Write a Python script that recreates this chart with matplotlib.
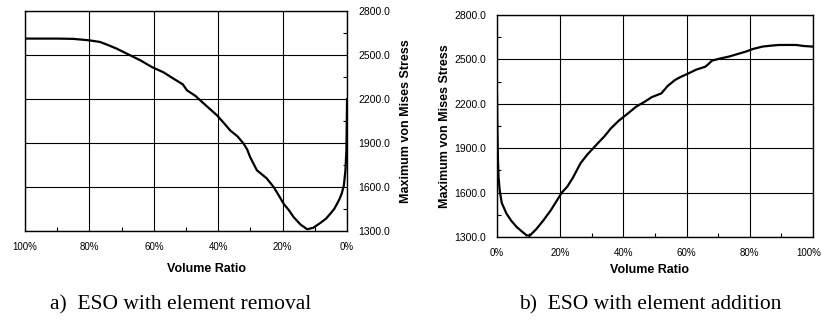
import matplotlib
matplotlib.use("Agg")
import matplotlib.pyplot as plt
import matplotlib.transforms as mtransforms
from matplotlib.ticker import FixedLocator, FuncFormatter

# ESO with element removal (volume ratio %, max von Mises stress)
removal_ratio = [100, 95, 90, 85, 80, 76.7, 74, 71.5, 68, 64.2, 60.6, 57, 53.9, 51,
                 49.7, 47, 45.6, 43, 40.4, 38, 36.3, 34, 32.1, 31, 30.1, 28.0, 25,
                 22.8, 21, 19.7, 18, 16.6, 14.5, 12.4, 10.5, 8.3, 6.5, 5.2, 4.0, 3.1,
                 2.3, 1.6, 1.0, 0.5, 0.2, 0.0]
removal_stress = [2612, 2612, 2612, 2610, 2600, 2589, 2566, 2543, 2505, 2464, 2418,
                  2382, 2339, 2300, 2259, 2220, 2191, 2140, 2089, 2030, 1986, 1945,
                  1895, 1855, 1804, 1714, 1660, 1600, 1535, 1486, 1440, 1395, 1345,
                  1312, 1322, 1355, 1385, 1418, 1450, 1486, 1520, 1560, 1610, 1714,
                  1850, 2200]

# ESO with element addition
addition_ratio = [0.0, 0.1, 0.3, 0.5, 0.85, 1.5, 3.0, 4.5, 6.2, 8.0, 9.4, 10.4, 12.5,
                  14.7, 17, 19, 20.5, 22.2, 24, 26.4, 28.5, 31.8, 34, 36, 38.5, 41.4,
                  44, 46.7, 49, 52, 54, 56.3, 58, 60.6, 63, 65.9, 67, 68, 70.5, 73.3,
                  76, 78.7, 81, 84, 86.5, 89.3, 92, 94.7, 97, 100]
addition_stress = [2270, 2050, 1819, 1700, 1616, 1530, 1458, 1410, 1368, 1335, 1311,
                   1310, 1355, 1413, 1480, 1548, 1600, 1639, 1700, 1797, 1855, 1931,
                   1980, 2033, 2085, 2134, 2180, 2213, 2245, 2270, 2320, 2360, 2380,
                   2405, 2430, 2450, 2470, 2491, 2505, 2518, 2535, 2552, 2570, 2586,
                   2592, 2597, 2597, 2597, 2590, 2586]

x_ticks = [0, 20, 40, 60, 80, 100]
y_ticks = [1300, 1600, 1900, 2200, 2500, 2800]

plt.rcParams["font.family"] = ["Liberation Sans", "DejaVu Sans"]

fig = plt.figure(figsize=(8.23, 3.24), dpi=100)
ax_a = fig.add_axes([0.0304, 0.287, 0.3913, 0.679])
ax_b = fig.add_axes([0.6039, 0.2685, 0.384, 0.6855])


def style_axes(ax):
    ax.set_ylim(1300, 2800)
    ax.xaxis.set_major_locator(FixedLocator(x_ticks))
    ax.yaxis.set_major_locator(FixedLocator(y_ticks))
    ax.xaxis.set_minor_locator(FixedLocator([10, 30, 50, 70, 90]))
    ax.yaxis.set_minor_locator(FixedLocator([1450, 1750, 2050, 2350, 2650]))
    ax.xaxis.set_major_formatter(FuncFormatter(lambda v, p: f"{int(v)}%"))
    ax.yaxis.set_major_formatter(FuncFormatter(lambda v, p: f"{v:.1f}"))
    ax.grid(True, which="major", color="black", linewidth=0.8)
    ax.tick_params(which="major", length=0, pad=8)
    ax.tick_params(axis="x", labelsize=7)
    ax.tick_params(axis="y", labelsize=7.5)
    ax.tick_params(which="minor", direction="in", length=3, width=0.8)
    for s in ax.spines.values():
        s.set_linewidth(1.0)
    ax.set_xlabel("Volume Ratio", fontsize=9, fontweight="bold")
    ax.set_ylabel("Maximum von Mises Stress", fontsize=9, fontweight="bold")


# a) removal: x axis reversed, y axis on the right
ax_a.plot(removal_ratio, removal_stress, color="black", linewidth=1.6)
ax_a.set_xlim(100, 0)
style_axes(ax_a)
ax_a.yaxis.tick_right()
ax_a.yaxis.set_label_position("right")
ax_a.xaxis.set_label_coords(0.562, -0.145)
ax_a.yaxis.set_label_coords(1.165, 0.5)

# b) addition
ax_b.plot(addition_ratio, addition_stress, color="black", linewidth=1.6)
ax_b.set_xlim(0, 100)
style_axes(ax_b)
ax_b.xaxis.set_label_coords(0.484, -0.12)
ax_b.yaxis.set_label_coords(-0.145, 0.5)

# keep the "100%" label inside the figure edge
fig.canvas.draw()
last = ax_b.get_xticklabels()[-1]
last.set_transform(last.get_transform() +
                   mtransforms.ScaledTranslation(-4 / 100, 0, fig.dpi_scale_trans))

fig.text(181 / 823, 1 - 305 / 324, "a)  ESO with element removal",
         fontsize=15.5, family="Liberation Serif", ha="center", va="center")
fig.text(650 / 823, 1 - 305 / 324, "b)  ESO with element addition",
         fontsize=15.5, family="Liberation Serif", ha="center", va="center")

fig.savefig("out.png", dpi=100)
